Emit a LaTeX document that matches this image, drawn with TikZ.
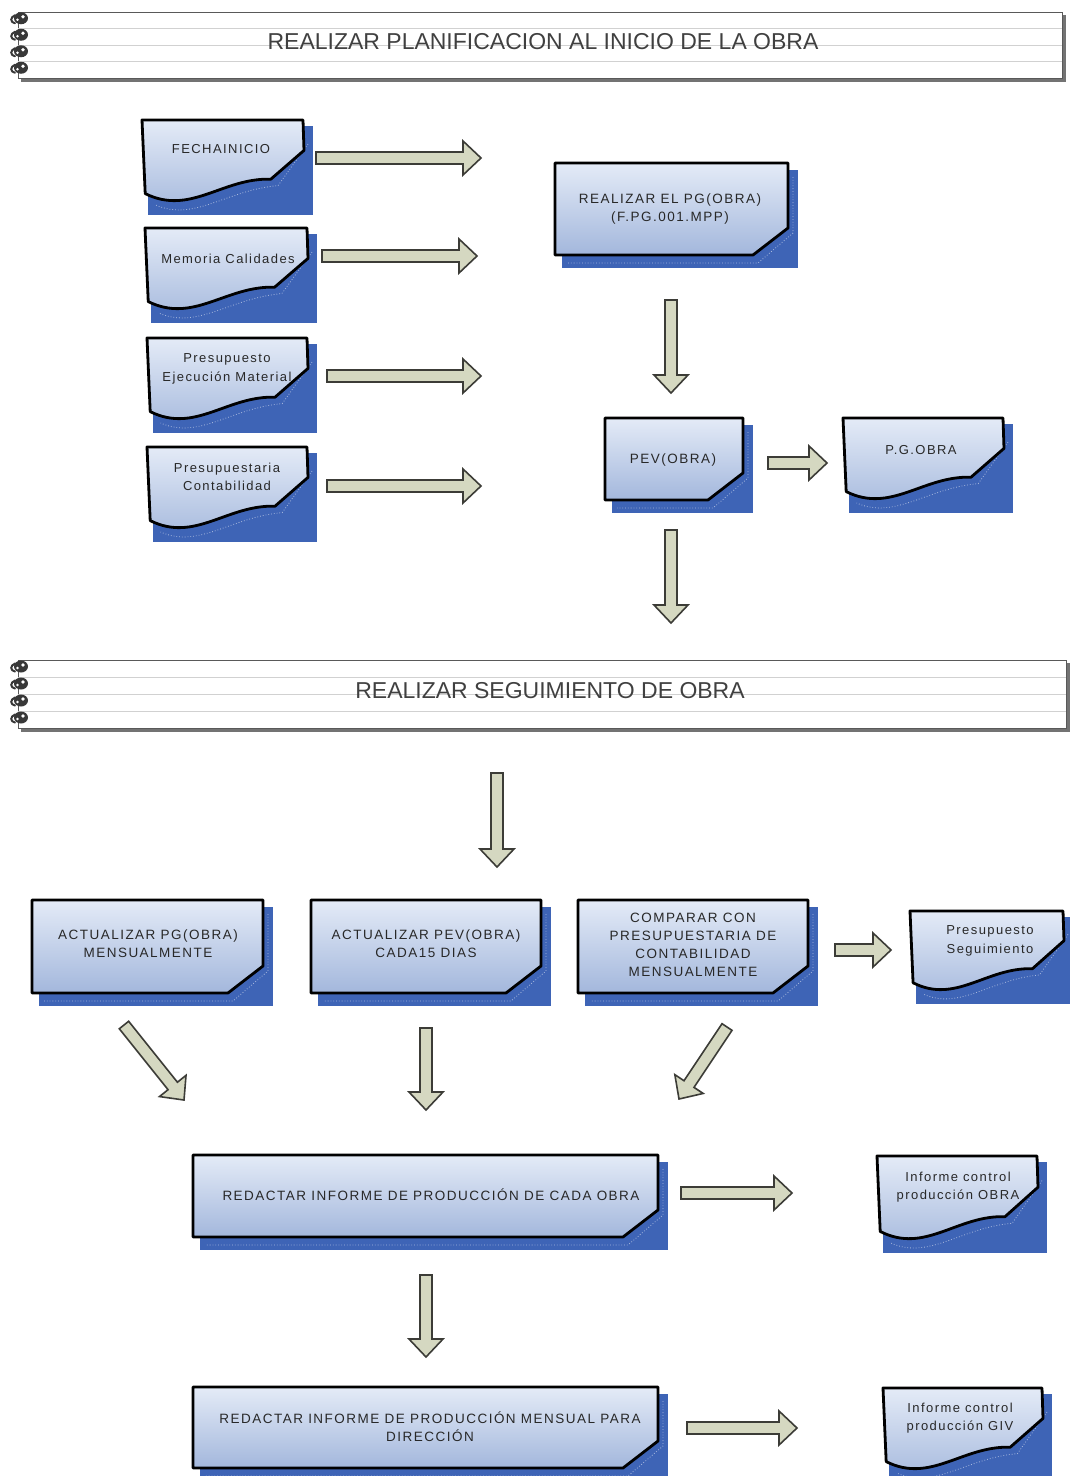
\documentclass[tikz,border=0pt]{standalone}
\usepackage{fontspec}
\setmainfont{Liberation Sans}
\newfontfamily\boxfont[LetterSpace=11]{Liberation Sans}
\usetikzlibrary{calc}
\definecolor{shadowblue}{RGB}{62,100,182}
\definecolor{boxtop}{RGB}{228,235,247}
\definecolor{boxbot}{RGB}{163,183,220}
\definecolor{arrowfill}{RGB}{213,216,193}
\definecolor{arrowline}{RGB}{60,60,55}
\definecolor{txt}{RGB}{40,40,40}
\definecolor{headtxt}{RGB}{64,64,64}
\tikzset{
  shadowrect/.style={fill=shadowblue},
  shadowdots/.style={draw=white, opacity=.55, dotted, line width=.8pt},
  boxoutline/.style={draw=black, line width=2.8pt, top color=boxtop, bottom color=boxbot, line join=round},
  blockarrow/.style={draw=arrowline, line width=1.6pt, fill=arrowfill, line join=miter},
  lbl/.style={text=txt, font=\boxfont\fontsize{13.5}{18}\selectfont, align=center, inner sep=0pt},
  doclbl/.style={text=txt, font=\boxfont\fontsize{13}{18.5}\selectfont, align=center, inner sep=0pt},
  headlbl/.style={text=headtxt, font=\fontsize{23}{27}\selectfont, inner sep=0pt},
  coil/.style={fill=black!78},
}
% name, x0, y0, x1, y1, tx, ty, text
\newcommand\procbox[8]{%
  \fill[shadowrect] ({#2+7},{#3+7}) rectangle ({#4+10},{#5+13});
  \draw[shadowdots] ({#4+5},{#3+14}) -- ({#4+5},{#5-22}) -- ({#4-30},{#5+8}) -- ({#2+12},{#5+8});
  \path[boxoutline] (#2,#3) -- (#4,#3) -- (#4,{#5-27}) -- ({#4-35},#5) -- (#2,#5) -- cycle;
  \node[lbl] (#1) at (#6,#7) {#8};
}
% name, x0, y0, W, H, tx, ty, text
\newcommand\docbox[8]{%
  \fill[shadowrect] ({#2+6},{#3+6}) rectangle ({#2+#4+10},{#3+#5+15});
  \draw[shadowdots] ({#2+#4+5},{#3+0.3*#5}) -- ({#2+0.82*#4+4},{#3+0.82*#5})
     .. controls ({#2+0.5*#4+4},{#3+0.8*#5+6}) and ({#2+0.3*#4+4},{#3+1.2*#5+6}) .. ({#2+0.06*#4+4},{#3+0.95*#5+9});
  \path[boxoutline] (#2,#3) -- ({#2+#4},#3) -- ({#2+#4+1},{#3+0.38*#5}) -- ({#2+0.8*#4},{#3+0.74*#5})
     .. controls ({#2+0.5*#4},{#3+0.72*#5}) and ({#2+0.3*#4},{#3+1.2*#5}) .. ({#2+0.02*#4},{#3+0.92*#5}) -- cycle;
  \node[doclbl] (#1) at (#6,#7) {#8};
}
% name, y0, y1, x1, tx, ty, text
\newcommand\headerbar[7]{%
  \fill[black!55] (21,{#2+3}) rectangle ({#4+4},{#3+4});
  \filldraw[fill=white, draw=black!65, line width=1pt] (18,#2) rectangle (#4,#3);
  \foreach \k in {1,2,3} {\draw[black!18, line width=1pt] (18,{#2+\k*(#3-#2)/4}) -- (#4,{#2+\k*(#3-#2)/4});}
  \foreach \k in {1,2,3,4} {%
    \pgfmathsetmacro\cy{#2+(\k-0.5)*(#3-#2)/4-2}
    \fill[coil] (21,\cy) ellipse (7 and 6);
    \fill[white] (23,{\cy-1.5}) circle (1.8);
    \fill[white] (17.5,{\cy+1.5}) circle (1.3);
    \draw[black!78, line width=2pt, line cap=round] (15,{\cy-3}) .. controls (10,{\cy-1}) and (10,{\cy+4}) .. (15,{\cy+5});
  }
  \node[headlbl] (#1) at (#5,#6) {#7};
}
\newcommand\blockarrow[2]{%
  \coordinate (ahd) at ($(#2)!18pt!(#1)$);
  \draw[blockarrow] ($(#1)!6pt!90:(#2)$) -- ($(ahd)!6pt!90:(#2)$) -- ($(ahd)!17pt!90:(#2)$) -- (#2)
    -- ($(ahd)!17pt!-90:(#2)$) -- ($(ahd)!6pt!-90:(#2)$) -- ($(#1)!6pt!-90:(#2)$) -- cycle;
}
\begin{document}
\begin{tikzpicture}[x=1pt,y=-1pt]
\useasboundingbox (0,0) rectangle (1069,1476);
\fill[white] (0,0) rectangle (1069,1476);

% headers
\headerbar{h1}{12}{78}{1062}{543}{42}{REALIZAR PLANIFICACION AL INICIO DE LA OBRA}
\headerbar{h2}{660}{728}{1066}{550}{691}{REALIZAR SEGUIMIENTO DE OBRA}

% input documents
\docbox{fecha}{142}{120}{161}{80}{221}{149}{FECHAINICIO}
\docbox{memoria}{145}{228}{162}{80}{228}{259}{Memoria Calidades}
\docbox{pem}{147}{338}{160}{80}{227}{369}{Presupuesto\\Ejecución Material}
\docbox{pcont}{147}{447}{160}{80}{227}{477}{Presupuestaria\\Contabilidad}

% planning processes
\procbox{pg}{555}{163}{788}{255}{670}{209}{REALIZAR EL PG(OBRA)\\(F.PG.001.MPP)}
\procbox{pev}{605}{418}{743}{500}{673}{460}{PEV(OBRA)}
\docbox{pgobra}{843}{418}{160}{80}{921}{450}{P.G.OBRA}

% follow-up processes
\procbox{actpg}{32}{900}{263}{993}{148}{944}{ACTUALIZAR PG(OBRA)\\MENSUALMENTE}
\procbox{actpev}{311}{900}{541}{993}{426}{944}{ACTUALIZAR PEV(OBRA)\\CADA15 DIAS}
\procbox{comp}{578}{900}{808}{993}{693}{945}{COMPARAR CON\\PRESUPUESTARIA DE\\CONTABILIDAD\\MENSUALMENTE}
\docbox{pseg}{910}{911}{153}{78}{990}{941}{Presupuesto\\Seguimiento}

\procbox{red1}{193}{1155}{658}{1237}{431}{1195}{REDACTAR INFORME DE PRODUCCIÓN DE CADA OBRA}
\docbox{inf1}{877}{1156}{160}{82}{958}{1187}{Informe control\\producción OBRA}

\procbox{red2}{193}{1387}{658}{1468}{430}{1427}{REDACTAR INFORME DE PRODUCCIÓN MENSUAL PARA\\DIRECCIÓN}
\docbox{inf2}{883}{1388}{159}{80}{960}{1418}{Informe control\\producción GIV}

% arrow end points
\coordinate (a1s) at (316,158);  \coordinate (a1e) at (481,158);
\coordinate (a2s) at (322,256);  \coordinate (a2e) at (477,256);
\coordinate (a3s) at (327,376);  \coordinate (a3e) at (481,376);
\coordinate (a4s) at (327,486);  \coordinate (a4e) at (481,486);
\coordinate (a5s) at (671,300);  \coordinate (a5e) at (671,393);
\coordinate (a6s) at (768,463);  \coordinate (a6e) at (827,463);
\coordinate (a7s) at (671,530);  \coordinate (a7e) at (671,623);
\coordinate (a8s) at (497,773);  \coordinate (a8e) at (497,867);
\coordinate (a9s) at (835,950);  \coordinate (a9e) at (891,950);
\coordinate (a10s) at (124,1025); \coordinate (a10e) at (184,1100);
\coordinate (a11s) at (426,1028); \coordinate (a11e) at (426,1110);
\coordinate (a12s) at (727,1027); \coordinate (a12e) at (679,1099);
\coordinate (a13s) at (681,1193); \coordinate (a13e) at (792,1193);
\coordinate (a14s) at (426,1275); \coordinate (a14e) at (426,1357);
\coordinate (a15s) at (687,1428); \coordinate (a15e) at (797,1428);

\foreach \i in {1,...,15} {\blockarrow{a\i s}{a\i e}}
\end{tikzpicture}
\end{document}
